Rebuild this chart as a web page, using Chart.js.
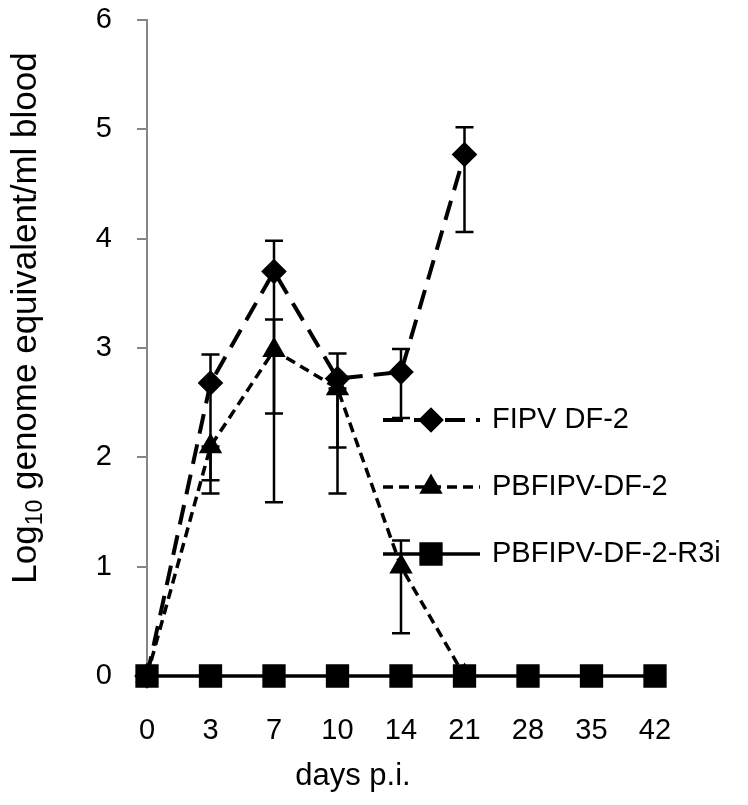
<!DOCTYPE html>
<html lang="en">
<head>
<meta charset="UTF-8" />
<title>Genome equivalents in blood</title>
<script src="https://cdn.jsdelivr.net/npm/chart.js"></script>
<style>
  html, body { margin: 0; padding: 0; background: #fff; }
  #wrap { width: 748px; height: 805px; }
</style>
</head>
<body>
<div id="wrap"><canvas id="chart" width="748" height="805"></canvas></div>
<script>
// days post infection (category axis)
const days = ['0', '3', '7', '10', '14', '21', '28', '35', '42'];
const yTicks = [0, 1, 2, 3, 4, 5, 6];

// FIPV DF-2
const fipv     = [0, 2.68, 3.70, 2.72, 2.78, 4.77, null, null, null];
const fipvLow  = [null, 1.67, 2.40, 2.09, 2.36, 4.06, null, null, null];
const fipvHigh = [null, 2.94, 3.98, 2.95, 2.99, 5.02, null, null, null];

// PBFIPV-DF-2
const pbfipv     = [0, 2.10, 2.98, 2.63, 1.00, 0, null, null, null];
const pbfipvLow  = [null, 1.79, 1.59, 1.67, 0.39, null, null, null, null];
const pbfipvHigh = [null, 2.10, 3.26, 2.63, 1.24, null, null, null, null];

// PBFIPV-DF-2-R3i
const r3i = [0, 0, 0, 0, 0, 0, 0, 0, 0];

const FONT = '"Liberation Sans", Arial, sans-serif';

// error bars, drawn under the markers
const errorBars = {
  id: 'errorBars',
  beforeDatasetsDraw(chart) {
    const ctx = chart.ctx;
    const x = chart.scales.x, y = chart.scales.y;
    const sets = [[fipvLow, fipvHigh], [pbfipvLow, pbfipvHigh]];
    ctx.save();
    ctx.strokeStyle = '#000';
    ctx.lineWidth = 2.5;
    ctx.setLineDash([]);
    sets.forEach(([lo, hi]) => {
      lo.forEach((v, i) => {
        if (v === null || hi[i] === null) return;
        const px = x.getPixelForValue(i);
        const y1 = y.getPixelForValue(v), y2 = y.getPixelForValue(hi[i]);
        ctx.beginPath();
        ctx.moveTo(px, y1); ctx.lineTo(px, y2);
        ctx.moveTo(px - 9, y1); ctx.lineTo(px + 9, y1);
        ctx.moveTo(px - 9, y2); ctx.lineTo(px + 9, y2);
        ctx.stroke();
      });
    });
    ctx.restore();
  }
};

// legend inside the plot + axis titles
const extras = {
  id: 'extras',
  afterDraw(chart) {
    const ctx = chart.ctx;
    ctx.save();
    const rows = [420, 487, 554];
    chart.data.datasets.forEach((ds, i) => {
      const yy = rows[i];
      ctx.strokeStyle = '#000';
      ctx.lineWidth = ds.borderWidth;
      ctx.setLineDash(ds.borderDash || []);
      ctx.beginPath();
      ctx.moveTo(383, yy); ctx.lineTo(480, yy);
      ctx.stroke();
      ctx.setLineDash([]);
      Chart.helpers.drawPoint(ctx, {
        pointStyle: ds.pointStyle, radius: ds.pointRadius, borderWidth: 1, rotation: 0
      }, 431, yy);
      ctx.fillStyle = '#000';
      ctx.fill();
      ctx.font = '29px ' + FONT;
      ctx.textBaseline = 'middle';
      ctx.textAlign = 'left';
      ctx.fillText(ds.label, 492, yy);
    });

    // x title
    ctx.font = '31px ' + FONT;
    ctx.textAlign = 'center';
    ctx.textBaseline = 'alphabetic';
    ctx.fillText('days p.i.', 353, 785);

    // y title with subscript
    ctx.translate(36, 318);
    ctx.rotate(-Math.PI / 2);
    const big = '35px ' + FONT, small = '23px ' + FONT;
    const p1 = 'Log', p2 = '10', p3 = ' genome equivalent/ml blood';
    ctx.font = big; const w1 = ctx.measureText(p1).width, w3 = ctx.measureText(p3).width;
    ctx.font = small; const w2 = ctx.measureText(p2).width;
    let sx = -(w1 + w2 + w3) / 2;
    ctx.textAlign = 'left';
    ctx.font = big; ctx.fillText(p1, sx, 0); sx += w1;
    ctx.font = small; ctx.fillText(p2, sx, 6); sx += w2;
    ctx.font = big; ctx.fillText(p3, sx, 0);
    ctx.restore();
  }
};

new Chart(document.getElementById('chart'), {
  type: 'line',
  data: {
    labels: days,
    datasets: [
      {
        label: 'FIPV DF-2', data: fipv, clip: false,
        borderColor: '#000', backgroundColor: '#000', borderWidth: 4, borderDash: [20, 11],
        pointStyle: 'rectRot', pointRadius: 10, pointBackgroundColor: '#000', pointBorderColor: '#000',
        tension: 0
      },
      {
        label: 'PBFIPV-DF-2', data: pbfipv, clip: false,
        borderColor: '#000', backgroundColor: '#000', borderWidth: 3.5, borderDash: [10, 6],
        pointStyle: 'triangle', pointRadius: 10, pointBackgroundColor: '#000', pointBorderColor: '#000',
        tension: 0
      },
      {
        label: 'PBFIPV-DF-2-R3i', data: r3i, clip: false,
        borderColor: '#000', backgroundColor: '#000', borderWidth: 3.5,
        pointStyle: 'rect', pointRadius: 14, pointBackgroundColor: '#000', pointBorderColor: '#000',
        tension: 0
      }
    ]
  },
  options: {
    responsive: false,
    animation: false,
    devicePixelRatio: 1,
    layout: { padding: { left: 0, right: 93, top: 20, bottom: 0 } },
    plugins: { legend: { display: false }, tooltip: { enabled: false } },
    scales: {
      x: {
        offset: false,
        grid: { display: true, drawOnChartArea: false, drawTicks: false, color: '#868686' },
        border: { display: true, color: '#868686', width: 2 },
        ticks: { color: '#000', font: { size: 29, family: FONT }, padding: 38, maxRotation: 0, autoSkip: false },
        afterFit(s) { s.height = 129; }
      },
      y: {
        min: 0, max: 6,
        afterBuildTicks(s) { s.ticks = yTicks.map(v => ({ value: v })); },
        grid: { display: true, drawOnChartArea: false, drawTicks: true, tickLength: 10, color: '#868686', lineWidth: 2 },
        border: { display: true, color: '#868686', width: 2 },
        ticks: { color: '#000', font: { size: 29, family: FONT }, padding: 25 },
        afterFit(s) { s.width = 147; s.paddingTop = 20; s.paddingBottom = 0; }
      }
    }
  },
  plugins: [errorBars, extras]
});
</script>
</body>
</html>
